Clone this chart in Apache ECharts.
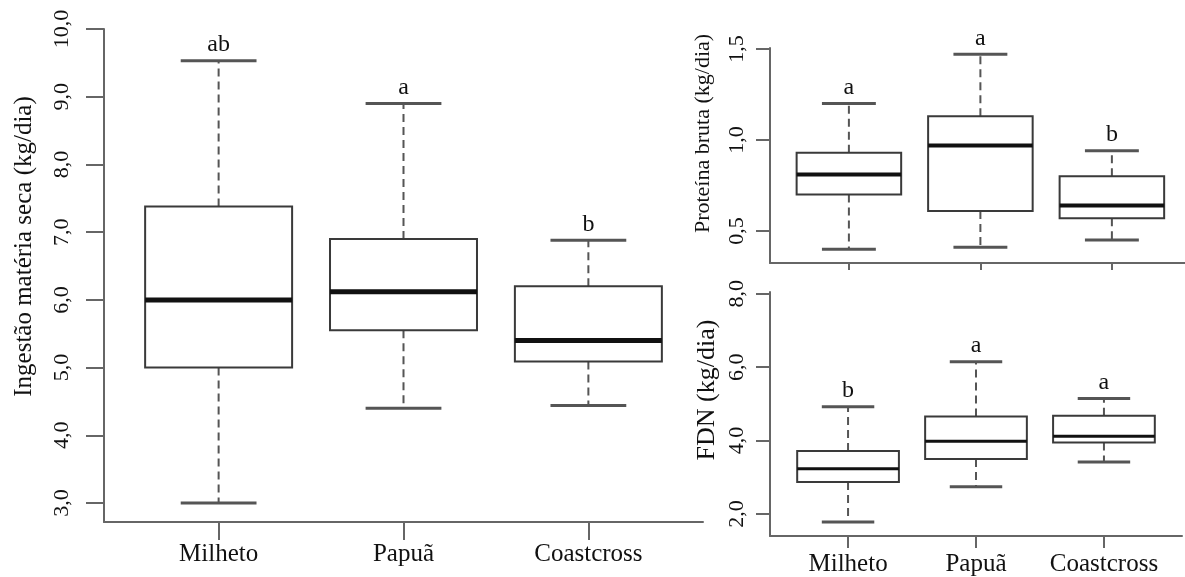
<!DOCTYPE html>
<html>
<head>
<meta charset="utf-8">
<script src="https://cdn.jsdelivr.net/npm/echarts@6/dist/echarts.min.js"></script>
<style>
  html, body { margin: 0; padding: 0; background: #fff; }
  #chart { width: 1185px; height: 577px; }
</style>
</head>
<body>
<div id="chart"></div>
<script>
// categories shared by the three panels
const categories = ['Milheto', 'Papuã', 'Coastcross'];

// Ingestão matéria seca (kg/dia)
const msMin = [3.0, 4.4, 4.44];
const msQ1 = [5.0, 5.55, 5.09];
const msMedian = [6.0, 6.12, 5.4];
const msQ3 = [7.38, 6.9, 6.2];
const msMax = [9.53, 8.9, 6.88];
const msLetters = ['ab', 'a', 'b'];
const msTicks = [3, 4, 5, 6, 7, 8, 9, 10];

// Proteína bruta (kg/dia)
const pbMin = [0.40, 0.41, 0.45];
const pbQ1 = [0.70, 0.61, 0.57];
const pbMedian = [0.81, 0.97, 0.64];
const pbQ3 = [0.93, 1.13, 0.80];
const pbMax = [1.20, 1.47, 0.94];
const pbLetters = ['a', 'a', 'b'];
const pbTicks = [0.5, 1.0, 1.5];

// FDN (kg/dia)
const fdnMin = [1.78, 2.74, 3.42];
const fdnQ1 = [2.87, 3.50, 3.95];
const fdnMedian = [3.23, 3.98, 4.12];
const fdnQ3 = [3.72, 4.66, 4.68];
const fdnMax = [4.92, 6.15, 5.15];
const fdnLetters = ['b', 'a', 'a'];
const fdnTicks = [2, 4, 6, 8];

const FONT = 'Liberation Serif';
const AXIS_COLOR = '#666';

function rows(mn, q1, md, q3, mx) {
  return categories.map((c, i) => [i + 1, mn[i], q1[i], md[i], q3[i], mx[i]]);
}

function comma(v) {
  return v.toFixed(1).replace('.', ',');
}

// box with dashed whiskers, drawn through the axis scales
function boxRenderer(letters, medianWidth) {
  return function (params, api) {
    const x = api.value(0);
    const pMin = api.coord([x, api.value(1)]);
    const pQ1 = api.coord([x, api.value(2)]);
    const pMed = api.coord([x, api.value(3)]);
    const pQ3 = api.coord([x, api.value(4)]);
    const pMax = api.coord([x, api.value(5)]);
    const band = api.size([1, 0])[0];
    const bw = band * 0.795;
    const cw = band * 0.41;
    const cx = pMed[0];
    const dash = { stroke: '#555', lineWidth: 2, lineDash: [8, 5] };
    const cap = { stroke: '#555', lineWidth: 3 };
    return {
      type: 'group',
      children: [
        { type: 'line', shape: { x1: cx, y1: pQ3[1], x2: cx, y2: pMax[1] }, style: dash },
        { type: 'line', shape: { x1: cx, y1: pQ1[1], x2: cx, y2: pMin[1] }, style: dash },
        { type: 'line', shape: { x1: cx - cw / 2, y1: pMax[1], x2: cx + cw / 2, y2: pMax[1] }, style: cap },
        { type: 'line', shape: { x1: cx - cw / 2, y1: pMin[1], x2: cx + cw / 2, y2: pMin[1] }, style: cap },
        {
          type: 'rect',
          shape: { x: cx - bw / 2, y: pQ3[1], width: bw, height: pQ1[1] - pQ3[1] },
          style: { fill: '#fff', stroke: '#3a3a3a', lineWidth: 2 }
        },
        {
          type: 'line',
          shape: { x1: cx - bw / 2, y1: pMed[1], x2: cx + bw / 2, y2: pMed[1] },
          style: { stroke: '#111', lineWidth: medianWidth }
        },
        {
          type: 'text',
          x: cx,
          y: pMax[1] - 4,
          style: {
            text: letters[params.dataIndex],
            fill: '#111',
            font: '24px "' + FONT + '"',
            align: 'center',
            verticalAlign: 'bottom'
          }
        }
      ]
    };
  };
}

function xAxis(gridIndex, min, max, tickLen, margin, showLabels) {
  return {
    gridIndex: gridIndex,
    type: 'value',
    min: min,
    max: max,
    splitLine: { show: false },
    axisLine: { show: true, onZero: false, lineStyle: { color: AXIS_COLOR, width: 2 } },
    axisTick: { show: true, customValues: [1, 2, 3], length: tickLen, lineStyle: { color: AXIS_COLOR, width: 2 } },
    axisLabel: {
      show: showLabels,
      customValues: [1, 2, 3],
      formatter: v => categories[Math.round(v) - 1],
      fontFamily: FONT,
      fontSize: 25,
      color: '#111',
      margin: margin
    }
  };
}

function yAxis(gridIndex, min, max, ticks, name, nameSize, nameGap, nameShift, tickLen, margin) {
  return {
    gridIndex: gridIndex,
    type: 'value',
    min: min,
    max: max,
    name: name,
    nameLocation: 'middle',
    nameGap: nameGap,
    nameTextStyle: { fontFamily: FONT, fontSize: nameSize, color: '#111', padding: [0, 0, 0, nameShift] },
    splitLine: { show: false },
    axisLine: { show: true, onZero: false, lineStyle: { color: AXIS_COLOR, width: 2 } },
    axisTick: { show: true, customValues: ticks, length: tickLen, lineStyle: { color: AXIS_COLOR, width: 2 } },
    axisLabel: {
      customValues: ticks,
      formatter: v => comma(v),
      rotate: 90,
      fontFamily: FONT,
      fontSize: 22,
      color: '#111',
      margin: margin
    }
  };
}

const chart = echarts.init(document.getElementById('chart'));

const option = {
  backgroundColor: '#fff',
  animation: false,
  grid: [
    { left: 104, top: 29, width: 599, height: 493, outerBoundsMode: 'none' },
    { left: 770, top: 48, width: 415, height: 215, outerBoundsMode: 'none' },
    { left: 770, top: 292, width: 412, height: 244, outerBoundsMode: 'none' }
  ],
  xAxis: [
    xAxis(0, 0.38, 3.62, 18, 20, true),
    xAxis(1, 0.4, 3.556, 7, 20, false),
    xAxis(2, 0.39, 3.61, 12, 16, true)
  ],
  yAxis: [
    yAxis(0, 2.72, 10.0, msTicks, 'Ingestão matéria seca (kg/dia)', 25, 67, 58, 18, 31),
    yAxis(1, 0.324, 1.505, pbTicks, 'Proteína bruta (kg/dia)', 22, 56, 44, 14, 22),
    yAxis(2, 1.40, 8.05, fdnTicks, 'FDN (kg/dia)', 26, 50, 48, 14, 22)
  ],
  series: [
    {
      type: 'custom',
      xAxisIndex: 0,
      yAxisIndex: 0,
      renderItem: boxRenderer(msLetters, 5),
      encode: { x: 0, y: [1, 2, 3, 4, 5] },
      data: rows(msMin, msQ1, msMedian, msQ3, msMax)
    },
    {
      type: 'custom',
      xAxisIndex: 1,
      yAxisIndex: 1,
      renderItem: boxRenderer(pbLetters, 4),
      encode: { x: 0, y: [1, 2, 3, 4, 5] },
      data: rows(pbMin, pbQ1, pbMedian, pbQ3, pbMax)
    },
    {
      type: 'custom',
      xAxisIndex: 2,
      yAxisIndex: 2,
      renderItem: boxRenderer(fdnLetters, 3),
      encode: { x: 0, y: [1, 2, 3, 4, 5] },
      data: rows(fdnMin, fdnQ1, fdnMedian, fdnQ3, fdnMax)
    }
  ]
};

chart.setOption(option);
</script>
</body>
</html>
